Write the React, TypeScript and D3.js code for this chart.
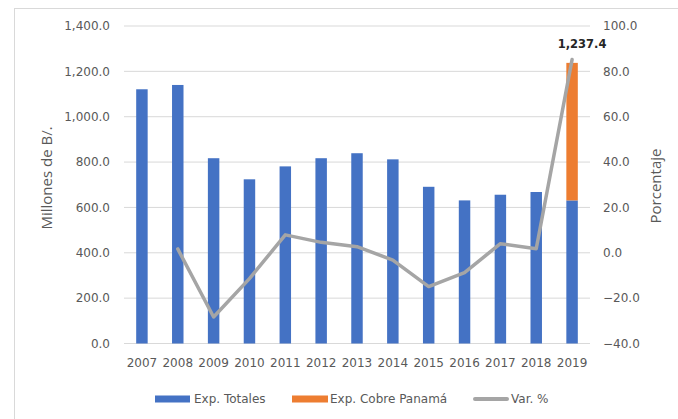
import React from "react";
import * as d3 from "d3";

const years = ["2007", "2008", "2009", "2010", "2011", "2012", "2013", "2014", "2015", "2016", "2017", "2018", "2019"];
const expTotales = [1121, 1140, 817, 724, 781, 817, 839, 812, 691, 631, 656, 668, 631];
const expCobre = [0, 0, 0, 0, 0, 0, 0, 0, 0, 0, 0, 0, 606.4];
const varPct: (number | null)[] = [null, 1.7, -28.3, -11.4, 7.9, 4.6, 2.7, -3.2, -14.9, -8.7, 4.0, 1.8, 85.2];
const leftTicks = [0, 200, 400, 600, 800, 1000, 1200, 1400];
const rightTicks = [-40, -20, 0, 20, 40, 60, 80, 100];
const totalLabel = "1,237.4";

const W = 678;
const H = 419;
const plot = { left: 124, right: 590, top: 26, bottom: 343.5 };

const BLUE = "#4472C4";
const ORANGE = "#ED7D31";
const GRAY = "#A5A5A5";
const TEXT = "#595959";
const FONT = "DejaVu Sans, Verdana, sans-serif";

export default function App() {
  const x = d3.scaleBand<string>().domain(years).range([plot.left, plot.right]).paddingInner(0.68).paddingOuter(0.34);
  const yL = d3.scaleLinear().domain([0, 1400]).range([plot.bottom, plot.top]);
  const yR = d3.scaleLinear().domain([-40, 100]).range([plot.bottom, plot.top]);
  const cx = (y: string) => (x(y) as number) + x.bandwidth() / 2;

  const line = d3
    .line<number | null>()
    .defined((d) => d !== null)
    .x((_, i) => cx(years[i]))
    .y((d) => yR(d as number));

  const fmt = d3.format(",.1f");
  const last = years.length - 1;

  return (
    <svg width={W} height={H} style={{ position: "absolute", left: 0, top: 0, background: "#fff" }} fontFamily={FONT}>
      <rect x={14.5} y={8.5} width={W + 10} height={H + 10} fill="none" stroke="#d9d9d9" />
      {leftTicks.map((t) => (
        <line key={t} x1={plot.left} x2={plot.right} y1={yL(t)} y2={yL(t)} stroke="#d9d9d9" strokeWidth={1} />
      ))}
      {leftTicks.map((t) => (
        <text key={t} x={110} y={yL(t)} dy="0.35em" textAnchor="end" fontSize={12} fill={TEXT}>
          {fmt(t)}
        </text>
      ))}
      {rightTicks.map((t) => (
        <text key={t} x={603} y={yR(t)} dy="0.35em" textAnchor="start" fontSize={12} fill={TEXT}>
          {fmt(t)}
        </text>
      ))}
      {years.map((yr, i) => (
        <g key={yr}>
          <rect x={x(yr)} width={x.bandwidth()} y={yL(expTotales[i])} height={yL(0) - yL(expTotales[i])} fill={BLUE} />
          {expCobre[i] > 0 && (
            <rect
              x={x(yr)}
              width={x.bandwidth()}
              y={yL(expTotales[i] + expCobre[i])}
              height={yL(expTotales[i]) - yL(expTotales[i] + expCobre[i])}
              fill={ORANGE}
            />
          )}
          <text x={cx(yr)} y={367} textAnchor="middle" fontSize={12} fill={TEXT}>
            {yr}
          </text>
        </g>
      ))}
      <path d={line(varPct) || ""} fill="none" stroke={GRAY} strokeWidth={3.5} strokeLinejoin="round" strokeLinecap="round" />
      <text
        x={cx(years[last]) + 10}
        y={yL(expTotales[last] + expCobre[last]) - 15}
        textAnchor="middle"
        fontSize={11.5}
        fontWeight="bold"
        fill="#262626"
      >
        {totalLabel}
      </text>
      <text transform={`translate(52,178) rotate(-90)`} textAnchor="middle" fontSize={15} fill={TEXT} fontFamily="Open Sans, sans-serif">
        Millones de B/.
      </text>
      <text transform={`translate(661,186) rotate(-90)`} textAnchor="middle" fontSize={15} fill={TEXT} fontFamily="Open Sans, sans-serif">
        Porcentaje
      </text>
      <g fontSize={12} fill={TEXT}>
        <rect x={155} y={395.5} width={35} height={7} fill={BLUE} />
        <text x={194} y={403}>Exp. Totales</text>
        <rect x={292} y={395.5} width={36} height={7} fill={ORANGE} />
        <text x={330} y={403}>Exp. Cobre Panamá</text>
        <line x1={475} x2={507} y1={399} y2={399} stroke={GRAY} strokeWidth={4} strokeLinecap="round" />
        <text x={511} y={403}>Var. %</text>
      </g>
    </svg>
  );
}
